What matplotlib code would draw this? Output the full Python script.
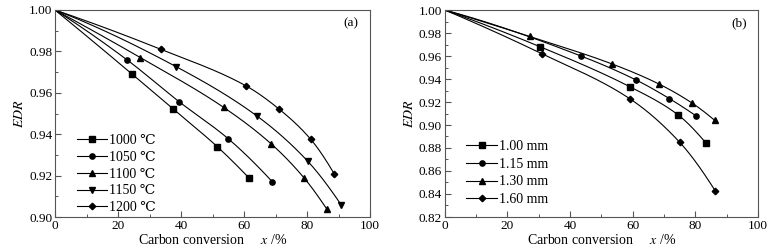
import matplotlib
matplotlib.use("Agg")
import matplotlib.pyplot as plt
import numpy as np
from matplotlib.ticker import MultipleLocator, FormatStrFormatter

plt.rcParams["font.family"] = ["Liberation Serif", "DejaVu Serif"]
plt.rcParams["mathtext.fontset"] = "stix"
plt.rcParams["font.size"] = 9

# panel (a): temperature series
temp_labels = ["1000 ℃", "1050 ℃", "1100 ℃", "1150 ℃", "1200 ℃"]
temp_x = [
    [24.5, 37.6, 51.5, 61.5],
    [22.8, 39.4, 55.0, 69.0],
    [27.1, 53.5, 68.5, 79.0, 86.2],
    [38.5, 64.2, 80.2, 90.8],
    [33.6, 60.7, 71.0, 81.2, 88.7],
]
temp_y = [
    [0.969, 0.952, 0.934, 0.919],
    [0.976, 0.9557, 0.9378, 0.917],
    [0.977, 0.953, 0.9355, 0.919, 0.904],
    [0.9726, 0.9487, 0.927, 0.906],
    [0.981, 0.9633, 0.9523, 0.9375, 0.9207],
]

# panel (b): particle size series
size_labels = ["1.00 mm", "1.15 mm", "1.30 mm", "1.60 mm"]
size_x = [
    [30.5, 59.3, 74.4, 83.5],
    [43.5, 61.2, 71.7, 80.2],
    [27.1, 53.5, 68.5, 79.0, 86.2],
    [31.0, 59.0, 75.0, 86.3],
]
size_y = [
    [0.968, 0.933, 0.909, 0.884],
    [0.960, 0.939, 0.923, 0.908],
    [0.977, 0.953, 0.9355, 0.919, 0.904],
    [0.962, 0.923, 0.885, 0.843],
]

markers_a = ["s", "o", "^", "v", "D"]
markers_b = ["s", "o", "^", "D"]
FRAME = "#555555"


def pchip(px, py, xx):
    # monotone cubic through the points, no overshoot
    h = np.diff(px)
    d = np.diff(py) / h
    n = len(px)
    m = np.zeros(n)
    for k in range(1, n - 1):
        if d[k - 1] * d[k] > 0:
            w1 = 2 * h[k] + h[k - 1]
            w2 = h[k] + 2 * h[k - 1]
            m[k] = (w1 + w2) / (w1 / d[k - 1] + w2 / d[k])
    m[0] = ((2 * h[0] + h[1]) * d[0] - h[0] * d[1]) / (h[0] + h[1])
    if np.sign(m[0]) != np.sign(d[0]):
        m[0] = 0
    m[-1] = ((2 * h[-1] + h[-2]) * d[-1] - h[-1] * d[-2]) / (h[-1] + h[-2])
    if np.sign(m[-1]) != np.sign(d[-1]):
        m[-1] = 0
    idx = np.clip(np.searchsorted(px, xx) - 1, 0, n - 2)
    t = (xx - px[idx]) / h[idx]
    h00 = 2 * t**3 - 3 * t**2 + 1
    h10 = t**3 - 2 * t**2 + t
    h01 = -2 * t**3 + 3 * t**2
    h11 = t**3 - t**2
    return (h00 * py[idx] + h10 * h[idx] * m[idx]
            + h01 * py[idx + 1] + h11 * h[idx] * m[idx + 1])


def smooth(xs, ys):
    px = np.r_[0.0, xs]
    py = np.r_[1.0, ys]
    xx = np.linspace(0, px[-1], 300)
    return xx, pchip(px, py, xx)


def draw_panel(ax, xs_list, ys_list, labels, markers, ylim, tag, spacing, leg_y):
    for xs, ys, lab, m in zip(xs_list, ys_list, labels, markers):
        xx, yy = smooth(xs, ys)
        ax.plot(xx, yy, color="black", lw=0.8)
        ms = 3.3 if m == "D" else 3.8
        ax.plot(xs, ys, ls="none", marker=m, color="black", ms=ms)
        ax.plot([], [], color="black", lw=0.8, marker=m, ms=ms, label=lab)
    ax.set_xlim(0, 100)
    ax.set_ylim(*ylim)
    ax.xaxis.set_major_locator(MultipleLocator(20))
    ax.xaxis.set_minor_locator(MultipleLocator(10))
    ax.yaxis.set_major_locator(MultipleLocator(0.02))
    ax.yaxis.set_minor_locator(MultipleLocator(0.01))
    ax.yaxis.set_major_formatter(FormatStrFormatter("%.2f"))
    ax.tick_params(which="both", direction="in", top=False, right=False,
                   colors=FRAME, labelcolor="black", labelsize=9.5, pad=2)
    ax.tick_params(which="major", length=4, width=0.8)
    ax.tick_params(which="minor", length=2.5, width=0.7)
    for sp in ax.spines.values():
        sp.set_color(FRAME)
        sp.set_linewidth(0.8)
    ax.set_xlabel("Carbon conversion     $x$ /%", fontsize=10, labelpad=1)
    ax.set_ylabel("$EDR$", fontsize=10, labelpad=2)
    ax.text(0.94, 0.935, tag, transform=ax.transAxes, fontsize=9.5, ha="center", va="center")
    ax.legend(loc="lower left", bbox_to_anchor=(0.045, leg_y), frameon=False,
              handlelength=2.2, handletextpad=0.15, labelspacing=spacing, fontsize=10,
              borderaxespad=0.15)


fig = plt.figure(figsize=(7.72, 2.52), dpi=100)
ax1 = fig.add_axes([55 / 772, 35 / 252, 315 / 772, 207 / 252])
ax2 = fig.add_axes([444.7 / 772, 35 / 252, 313.3 / 772, 207 / 252])

draw_panel(ax1, temp_x, temp_y, temp_labels, markers_a, (0.90, 1.00), "(a)", 0.28, -0.024)
draw_panel(ax2, size_x, size_y, size_labels, markers_b, (0.82, 1.00), "(b)", 0.35, 0.015)

fig.savefig("out.png", dpi=100)
